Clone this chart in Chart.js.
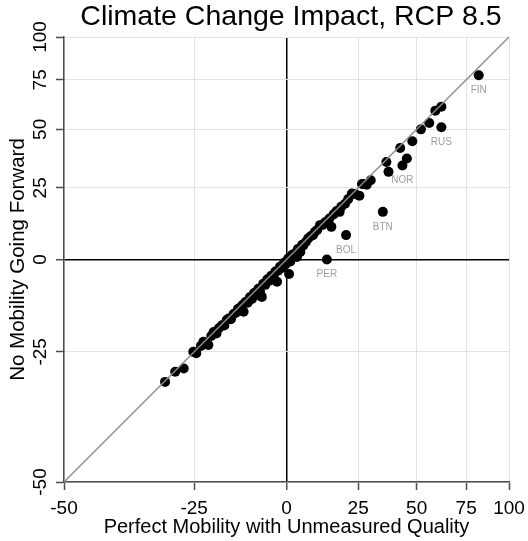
<!DOCTYPE html>
<html>
<head>
<meta charset="utf-8">
<script src="https://cdn.jsdelivr.net/npm/chart.js@4.4.1/dist/chart.umd.min.js"></script>
<style>
  body { margin: 0; background: #fff; }
  #wrap { width: 528px; height: 541px; position: relative; }
</style>
</head>
<body>
<div id="wrap"><canvas id="impactChart"></canvas></div>
<script>
// Ticks shown on both axes (axes are log(value + 100))
const tickVals = [-50, -25, 0, 25, 50, 75, 100];
const shift = 100;

// Unlabelled countries
const bandX = [-31.5, -29.3, -27.4, -25.2, -24.5, -23.4, -22.8, -21.6, -20.9, -20.3,
  -19.6, -19.0, -18.2, -17.6, -17.0, -16.5, -15.9, -15.2, -14.6, -14.0,
  -13.5, -12.9, -12.5, -12.0, -11.4, -10.8, -10.2, -9.6, -9.0, -8.4,
  -7.9, -7.4, -7.0, -6.4, -5.8, -5.2, -4.6, -4.0, -3.4, -2.9,
  -2.6, -2.0, -1.4, -0.8, -0.3, 0.8, 0.5, 1.2, 1.8, 2.6,
  3.3, 3.6, 4.4, 5.0, 5.4, 6.2, 7.0, 7.8, 8.6, 9.3,
  10.1, 11.0, 11.9, 12.8, 13.5, 14.3, 15.0, 15.8, 16.9, 18.0,
  18.6, 20.0, 21.2, 22.6, 23.8, 25.5, 26.5, 27.1, 28.4, 30.0,
  36.5, 37.4, 42.5, 45.5, 48.0, 52.0, 56.0, 59.0, 62.0];
const bandY = [-31.7, -29.5, -28.8, -25.0, -25.3, -23.6, -22.6, -23.4, -21.2, -20.2,
  -20.6, -19.3, -18.5, -18.6, -17.2, -16.8, -17.0, -15.6, -15.3, -14.2,
  -14.6, -13.3, -15.0, -12.4, -12.6, -11.1, -11.6, -9.9, -10.5, -8.7,
  -9.6, -11.0, -7.3, -7.6, -6.0, -6.4, -4.9, -5.2, -3.7, -6.7,
  -3.4, -2.2, -2.6, -1.0, -1.5, -4.4, 0.3, -0.6, 1.5, 1.9,
  0.8, 3.3, 2.4, 4.7, 4.5, 5.6, 6.8, 7.5, 7.9, 9.0,
  9.7, 11.3, 11.4, 12.3, 12.4, 13.6, 10.7, 15.1, 16.3, 16.0,
  17.9, 19.0, 20.7, 22.8, 22.6, 22.0, 26.5, 26.5, 26.2, 28.0,
  35.5, 31.4, 41.5, 37.0, 44.5, 50.0, 53.0, 59.0, 61.0];

// Labelled countries
const labelCodes = ['FIN', 'RUS', 'NOR', 'BTN', 'BOL', 'PER'];
const labelX = [82.0, 62.0, 43.5, 35.0, 20.4, 13.4];
const labelY = [77.5, 51.0, 34.0, 16.0, 7.9, 0.0];

const chartTitle = 'Climate Change Impact, RCP 8.5';
const FONT = "'Liberation Sans', Arial, sans-serif";

function toPoints(xs, ys) {
    return xs.map((x, i) => ({ x: x + shift, y: ys[i] + shift }));
}

// title, centred a bit right like in the original
const titleText = {
    id: 'titleText',
    afterDraw(chart) {
        const ctx = chart.ctx;
        ctx.save();
        ctx.font = '28.5px ' + FONT;
        ctx.fillStyle = '#000';
        ctx.textAlign = 'center';
        ctx.textBaseline = 'middle';
        ctx.fillText(chartTitle, 291, 17.5);
        ctx.restore();
    }
};

// y tick labels are drawn rotated, Stata style
const yTickLabels = {
    id: 'yTickLabels',
    afterDraw(chart) {
        const ctx = chart.ctx;
        const scale = chart.scales.y;
        ctx.save();
        ctx.font = '19px ' + FONT;
        ctx.fillStyle = '#000';
        ctx.textAlign = 'center';
        ctx.textBaseline = 'alphabetic';
        scale.ticks.forEach(t => {
            const y = scale.getPixelForValue(t.value);
            ctx.save();
            ctx.translate(45.5, y);
            ctx.rotate(-Math.PI / 2);
            ctx.fillText(String(t.value - shift), 0, 0);
            ctx.restore();
        });
        ctx.restore();
    }
};

// country codes under the labelled markers
const codeLabels = {
    id: 'codeLabels',
    afterDatasetsDraw(chart) {
        const ctx = chart.ctx;
        const meta = chart.getDatasetMeta(1);
        ctx.save();
        ctx.font = '10px ' + FONT;
        ctx.fillStyle = '#9d9da4';
        ctx.textAlign = 'center';
        ctx.textBaseline = 'middle';
        meta.data.forEach((pt, i) => {
            ctx.fillText(labelCodes[i], pt.x, pt.y + 15);
        });
        ctx.restore();
    }
};

function gridColor(c) {
    return c.tick && c.tick.value === shift ? '#000' : '#e2e2e2';
}
function gridWidth(c) {
    return c.tick && c.tick.value === shift ? 1.5 : 1;
}
function setTicks(scale) {
    scale.ticks = tickVals.map(v => ({ value: v + shift }));
}

const lo = tickVals[0], hi = tickVals[tickVals.length - 1];

new Chart(document.getElementById('impactChart'), {
    type: 'scatter',
    data: {
        datasets: [{
            data: toPoints(bandX, bandY),
            backgroundColor: '#000',
            borderWidth: 0,
            pointRadius: 5,
            order: 2
        }, {
            data: toPoints(labelX, labelY),
            backgroundColor: '#000',
            borderWidth: 0,
            pointRadius: 5,
            order: 2
        }, {
            type: 'line',
            data: toPoints([lo, hi], [lo, hi]),
            borderColor: '#8c8c8c',
            borderWidth: 1.4,
            pointRadius: 0,
            fill: false,
            order: 0
        }]
    },
    options: {
        responsive: true,
        maintainAspectRatio: false,
        animation: false,
        layout: { padding: { top: 37, right: 19 } },
        plugins: {
            legend: { display: false },
            tooltip: { enabled: false },
            title: { display: false }
        },
        scales: {
            x: {
                type: 'logarithmic',
                min: lo + shift,
                max: hi + shift,
                afterBuildTicks: setTicks,
                afterFit: s => { s.height = 59; s.paddingLeft = 0; s.paddingRight = 0; },
                border: { color: '#4d4d4d', width: 1.5 },
                grid: { color: gridColor, lineWidth: gridWidth, tickLength: 8, tickColor: '#4d4d4d', tickWidth: 1.5 },
                ticks: {
                    autoSkip: false,
                    maxRotation: 0,
                    color: '#000',
                    padding: 7,
                    font: { family: FONT, size: 19 },
                    callback: v => String(v - shift)
                },
                title: {
                    display: true,
                    text: 'Perfect Mobility with Unmeasured Quality',
                    color: '#000',
                    font: { family: FONT, size: 20 },
                    padding: { top: 0, bottom: 1.5 }
                }
            },
            y: {
                type: 'logarithmic',
                min: lo + shift,
                max: hi + shift,
                afterBuildTicks: setTicks,
                afterFit: s => { s.width = 64; },
                border: { color: '#4d4d4d', width: 1.5 },
                grid: { color: gridColor, lineWidth: gridWidth, tickLength: 8, tickColor: '#4d4d4d', tickWidth: 1.5 },
                ticks: { display: false },
                title: {
                    display: true,
                    text: 'No Mobility Going Forward',
                    color: '#000',
                    font: { family: FONT, size: 20.5 },
                    padding: { top: 6, bottom: 0 }
                }
            }
        }
    },
    plugins: [titleText, yTickLabels, codeLabels]
});
</script>
</body>
</html>
